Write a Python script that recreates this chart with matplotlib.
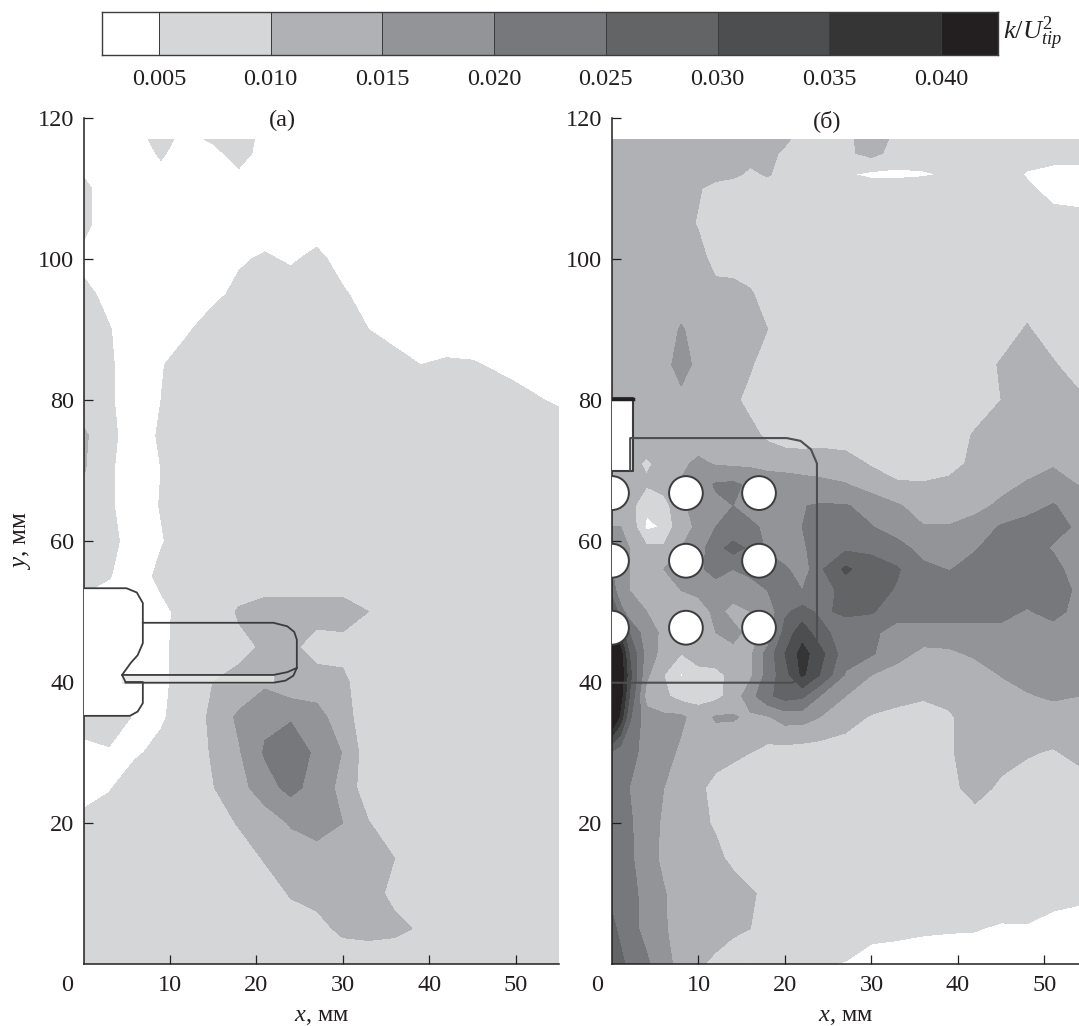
import numpy as np
from matplotlib import pyplot as plt
from matplotlib.colors import ListedColormap, BoundaryNorm
import matplotlib.patches as patches

plt.rcParams['font.family'] = ['Liberation Serif', 'DejaVu Serif']
plt.rcParams['mathtext.fontset'] = 'custom'
plt.rcParams['mathtext.rm'] = 'Liberation Serif'
plt.rcParams['mathtext.it'] = 'Liberation Serif:italic'

W, H = 1079, 1026
INK = '#231f20'
FS = 17.5

levels = [0, 0.005, 0.010, 0.015, 0.020, 0.025, 0.030, 0.035, 0.040, 0.100]
colors = ['#ffffff', '#d5d6d8', '#b0b1b4', '#939497', '#77787b', '#636466', '#4d4e50', '#353536', '#231f20']
bar_ticks = [0.005, 0.010, 0.015, 0.020, 0.025, 0.030, 0.035, 0.040]
bar_edges = [0.00245, 0.005, 0.010, 0.015, 0.020, 0.025, 0.030, 0.035, 0.040, 0.04255]

# panel (a): k/U^2 * 1000, rows from y = 117 down to y = 0
x_a = [0, 3, 6, 9, 12, 15, 18, 21, 24, 27, 30, 33, 36, 39, 42, 45, 50, 55]
y_a = [117, 115, 110, 105, 100, 95, 90, 85, 80, 75, 70, 65, 60, 55, 50, 45, 40, 35, 30, 25, 20, 15, 10, 5, 0]
k_a = [
    [4, 3, 4, 6, 4, 5.5, 6.5, 4, 3, 3, 3, 3, 3, 3, 3, 3, 3, 3],
    [3, 3, 3, 5.5, 3, 4, 6.5, 3.5, 3, 3, 3, 3, 3, 3, 3, 3, 3, 3],
    [6, 3, 3, 3, 3, 3, 3, 3, 3, 3, 3, 3, 3, 3, 3, 3, 3, 3],
    [6, 3, 3, 3, 3, 3, 3, 3, 3, 3, 3, 3, 3, 3, 3, 3, 3, 3],
    [4, 3, 3, 3, 3, 3, 4.5, 5.5, 4.5, 6, 3.5, 3, 3, 3, 3, 3, 3, 3],
    [6, 4, 3, 3, 3.5, 4, 6, 7, 7, 7, 5.5, 3.5, 3, 3, 3, 3, 3, 3],
    [6, 5.2, 3, 3, 4.5, 7, 7, 7, 7, 7, 7, 5, 3, 3, 3, 3, 3, 3],
    [7, 5.5, 3, 4.7, 7, 7, 7, 7, 7, 7, 7, 7, 7, 5, 5.5, 5.3, 4, 3],
    [7, 5.5, 3, 5, 7, 7, 7, 7, 7, 7, 7, 7, 7, 7, 7, 7, 6, 4.5],
    [11, 6, 3, 5.5, 7, 7, 7, 7, 7, 7, 7, 7, 7, 7, 7, 7, 7, 7],
    [10.5, 5.5, 3, 5, 7, 7, 7, 7, 7, 7, 7, 7, 7, 7, 7, 7, 7, 7],
    [7, 5.5, 3, 5.2, 7, 7, 7, 7, 7, 7, 7, 7, 7, 7, 7, 7, 7, 7],
    [7, 6, 3.5, 4.7, 7, 7, 7, 7, 7, 7, 7, 7, 7, 7, 7, 7, 7, 7],
    [7, 5.2, 3, 6, 7, 7, 7, 7, 7, 7, 7, 7, 7, 7, 7, 7, 7, 7],
    [3, 3, 3, 4, 6.5, 7, 10.5, 12, 12, 12, 12, 10, 7, 7, 7, 7, 7, 7],
    [3, 3, 3, 4.5, 6, 7, 9, 10.5, 11, 8, 8.5, 7, 7, 7, 7, 7, 7, 7],
    [3, 3, 3, 4.5, 6, 10, 11, 14, 11, 12, 11, 7, 7, 7, 7, 7, 7, 7],
    [6.5, 10, 4, 4.5, 7, 11, 16, 19, 19.5, 17, 12, 7, 7, 7, 7, 7, 7, 7],
    [4, 4, 4.5, 6, 7, 10.5, 14.5, 20.5, 23, 19, 14.8, 7, 7, 7, 7, 7, 7, 7],
    [3.5, 4.7, 7, 7, 7, 9.8, 13, 18, 21.5, 18, 13.5, 7, 7, 7, 7, 7, 7, 7],
    [6, 7, 7, 7, 7, 7, 10.5, 12, 15.5, 17, 15, 10.2, 7, 7, 7, 7, 7, 7],
    [7, 7, 7, 7, 7, 7, 7, 10.5, 12, 13, 13, 12, 10, 7, 7, 7, 7, 7],
    [7, 7, 7, 7, 7, 7, 7, 7, 10.5, 11.5, 12, 11.5, 9, 7, 7, 7, 7, 7],
    [7, 7, 7, 7, 7, 7, 7, 7, 7, 8.5, 11, 11.5, 11, 9.5, 7, 7, 7, 7],
    [7, 7, 7, 7, 7, 7, 7, 7, 7, 7, 7, 7, 7, 7, 7, 7, 7, 7],
]

# panel (б): same units
x_b = [0, 1, 2, 4, 6, 8, 10, 12, 14, 16, 18, 20, 22, 24, 27, 30, 33, 36, 39, 42, 45, 48, 51, 54]
y_b = [117, 115, 112, 110, 105, 100, 95, 90, 85, 80, 75, 71, 68, 65, 62, 59, 56, 53, 50, 47, 44, 41, 38, 35,
       30, 25, 20, 15, 10, 5, 0]
k_b = [
    [12, 12, 12, 12, 12, 12, 12, 12, 12, 12, 12, 11, 8, 8, 9, 12, 9, 7.5, 7.5, 7.5, 7.5, 7.5, 7.5, 7.5],
    [10, 11, 12, 12, 12, 12, 12, 12, 12, 12, 11.5, 9, 8, 8, 9, 11.5, 8, 7.5, 7.5, 7.5, 7.5, 7.5, 7.5, 7.5],
    [10, 11, 12, 12, 12, 12, 12, 12, 11, 9, 10.5, 8, 7.5, 7.5, 5.5, 4, 4, 4.5, 5.5, 7.5, 7.5, 4.5, 3, 3],
    [11, 12, 12, 12, 12, 12, 10.5, 8, 7.5, 7.5, 7.5, 7.5, 7.5, 7.5, 7.5, 7.5, 7.5, 7.5, 7.5, 7.5, 7.5, 6, 3, 2],
    [12, 12, 12, 12, 12, 12, 9.5, 7.5, 7.5, 7.5, 7.5, 7.5, 7.5, 7.5, 7.5, 7.5, 7.5, 7.5, 7.5, 7.5, 7.5, 7.5, 7.5, 7.5],
    [12, 12, 12, 12, 12, 12, 12, 8, 7.5, 7.5, 7.5, 7.5, 7.5, 7.5, 7.5, 7.5, 7.5, 7.5, 7.5, 7.5, 7.5, 7.5, 7.5, 7.5],
    [12, 12, 12, 12, 12, 12, 12, 12, 12, 10.5, 8, 7.5, 7.5, 7.5, 7.5, 7.5, 7.5, 7.5, 7.5, 7.5, 7.5, 7.5, 7.5, 7.5],
    [12, 12, 12, 12, 12.5, 15.5, 13, 12, 12, 12, 10, 7.5, 7.5, 7.5, 7.5, 7.5, 7.5, 7.5, 7.5, 7.5, 7.5, 10.5, 7.5, 7.5],
    [12, 12, 12, 12, 12.5, 18, 13, 12, 12, 10.5, 7.5, 7.5, 7.5, 7.5, 7.5, 7.5, 7.5, 7.5, 7.5, 7.5, 10.5, 12, 10.5, 7.5],
    [12, 12, 12, 12, 12, 13, 12, 12, 11, 8.5, 7.5, 7.5, 7.5, 7.5, 7.5, 7.5, 7.5, 7.5, 7.5, 7.5, 10, 12, 11, 11],
    [12, 12, 12, 12, 12, 12, 12, 12, 12, 11.5, 9, 7.5, 7.5, 7.5, 7.5, 7.5, 7.5, 7.5, 7.5, 10.5, 12, 12, 12, 12],
    [12, 12, 11, 9.5, 11, 14, 16, 14.5, 14, 14, 13.5, 13, 12.5, 13, 12, 9.5, 8, 8, 8.5, 11, 12, 13, 14.5, 12.5],
    [12, 12, 11, 10.5, 12, 15.5, 17.5, 20.5, 21, 19, 17.5, 17.5, 17, 16, 15.3, 12.5, 10.5, 10.3, 11, 12, 13.5, 15.5, 17, 14.8],
    [15, 15, 12, 6, 8, 14, 17, 19, 20, 18, 17.5, 18.5, 19.8, 20.5, 20.3, 18.5, 15.5, 13, 12.5, 13.5, 16, 18.5, 20.3, 18],
    [15, 15, 14, 4, 5.5, 14, 15.5, 20, 21, 21, 19, 18, 20, 22, 23, 20.2, 18, 15.2, 15.3, 17, 20.5, 21.5, 22, 19],
    [18, 17, 15, 11, 11, 15, 18, 23, 27, 24, 19, 16, 19, 23, 24, 24, 21.5, 18.5, 17, 19.7, 22, 22.5, 19.5, 18],
    [20, 17, 15, 13, 15, 16, 19, 22, 20, 22, 23, 21, 17, 24, 31, 27, 25.5, 21, 19.8, 21.5, 23, 23, 22, 17],
    [23, 16, 15, 13, 15, 15, 16, 17.5, 16.5, 17, 20, 22, 20, 22, 27, 27, 24.5, 22.5, 22.5, 22.5, 22.5, 22.5, 22.5, 19],
    [30, 22, 17, 15, 14, 12, 13, 16, 14, 15, 17, 24, 27, 24, 26, 25.5, 22, 22, 22, 22, 22, 19.5, 22, 18],
    [44, 34, 25, 17, 14, 12, 12, 15, 16, 14, 16, 27, 33, 27, 22, 21, 18, 18, 18, 18, 18, 18.5, 17.5, 17],
    [48, 42, 30, 18, 13, 10, 12, 14, 14, 14, 22, 30, 37, 32, 22, 20.5, 17, 13.5, 14, 15.8, 17.5, 17.5, 17.5, 17.5],
    [50, 44, 32, 16, 10, 4.5, 8.5, 8, 12, 14, 22, 28, 36, 30, 19.5, 15, 12.5, 12, 12, 12.5, 15.2, 15.8, 17, 17.5],
    [50, 42, 30, 13, 11, 8, 8, 8.5, 12, 18, 24, 27, 26, 20, 15, 13, 12, 10.5, 11, 12, 13, 14.8, 15.3, 15],
    [48, 38, 26, 17, 16, 16, 12.5, 15.5, 15.5, 14, 14.5, 17, 17, 15, 12, 9.5, 8, 8, 9.5, 12, 12.5, 13.5, 14, 14],
    [24, 22, 21, 19, 17, 14, 12, 12, 11, 10, 8.5, 8, 7.5, 7.5, 7.5, 7.5, 7.5, 7.5, 9.5, 12, 12, 10.5, 9.5, 11.5],
    [22, 21, 20, 18, 15, 13, 11, 8.5, 7.5, 7.5, 7.5, 7.5, 7.5, 7.5, 7.5, 7.5, 7.5, 7.5, 8.5, 12, 9, 7.5, 7.5, 7.5],
    [22, 22, 20.5, 18, 14, 13, 11, 9.5, 7.5, 7.5, 7.5, 7.5, 7.5, 7.5, 7.5, 7.5, 7.5, 7.5, 7.5, 7.5, 7.5, 7.5, 7.5, 7.5],
    [23, 22, 21, 17, 14, 13, 12, 11, 9, 7.5, 7.5, 7.5, 7.5, 7.5, 7.5, 7.5, 7.5, 7.5, 7.5, 7.5, 7.5, 7.5, 7.5, 7.5],
    [24, 23, 22, 18, 15.3, 13, 12.5, 12.5, 12, 10.5, 9, 7.5, 7.5, 7.5, 7.5, 7.5, 7.5, 7.5, 7.5, 7.5, 7.5, 7.5, 7, 6.5],
    [26, 24, 22.5, 18, 15.5, 13, 12.5, 12, 11, 10, 8, 7.5, 7.5, 7.5, 7.5, 6.5, 6, 5.5, 5.3, 5.2, 4.5, 4.6, 3, 2],
    [28, 26, 24, 21, 16, 14, 10.5, 9, 7, 4.8, 5.5, 5.5, 5.5, 5.2, 4.8, 3, 3, 3, 3, 3, 2, 2, 2, 2],
]

# rig outlines, mm
blade_x = [0.1, 5, 6.2, 6.9, 6.9, 6.3, 5.5, 4.5, 4.9, 6.9, 6.9, 6.3, 5.4, 0.1]
blade_y = [53.3, 53.3, 52.7, 51.2, 45.5, 43.8, 42.7, 41, 40, 40, 37, 35.8, 35.2, 35.2]
vane_x = [6.9, 22, 23.6, 24.4, 24.7, 24.7, 24.3, 23.4, 22, 4.9]
vane_y = [48.4, 48.4, 47.9, 47.1, 46, 42, 40.9, 40.2, 39.9, 39.9]
vane_in_x = [4.5, 22, 23.6, 24.7]
vane_in_y = [41, 41, 41.4, 42]
hub_x = [0, 2.4, 2.4, 0]
hub_y = [80.3, 80.3, 70, 70]
baffle_x = [2.1, 2.1, 20.2, 21.8, 23, 23.7, 23.7, 23.3, 22.4, 20.8, 0]
baffle_y = [70, 74.6, 74.6, 74.2, 73, 71, 43.5, 42, 40.8, 39.9, 39.9]
tube_x = [0, 8.55, 17]
tube_y = [66.8, 57.2, 47.7]


def setup_panel(rect, xlim, title, title_x, zero_x):
    ax = fig.add_axes(rect)
    ax.set_xlim(*xlim)
    ax.set_ylim(0, 120)
    ax.set_axisbelow(False)
    for side in ('top', 'right'):
        ax.spines[side].set_visible(False)
    for side in ('left', 'bottom'):
        ax.spines[side].set_linewidth(1.1)
        ax.spines[side].set_color(INK)
    ax.set_xticks([10, 20, 30, 40, 50])
    ax.set_yticks([20, 40, 60, 80, 100, 120])
    ax.tick_params(direction='in', length=6.5, width=0.9, color=INK, labelsize=FS, labelcolor=INK)
    ax.tick_params(axis='x', pad=8)
    ax.tick_params(axis='y', pad=7)
    ax.text(zero_x, -3, '0', fontsize=FS, color=INK, ha='center', va='center', clip_on=False)
    ax.text(title_x, 119.6, title, fontsize=FS, color=INK, ha='center', va='center', clip_on=False)
    ax.set_xlabel(r'$x$, мм', fontsize=FS, color=INK)
    ax.xaxis.set_label_coords(0.5, -0.05)
    return ax


def rect_px(left, top, right, bottom):
    return [left / W, 1 - bottom / H, (right - left) / W, (bottom - top) / H]


fig = plt.figure(figsize=(W / 100, H / 100), dpi=100)

# colour strip
cax = fig.add_axes(rect_px(102, 12, 998, 55))
cax.pcolormesh(bar_edges, [0, 1], [levels[:-1]], cmap=ListedColormap(colors),
               norm=BoundaryNorm(levels, len(colors)), edgecolors='#3c3c3e', linewidth=0.7)
cax.set_yticks([])
cax.set_xticks(bar_ticks)
cax.set_xticklabels(['%.3f' % t for t in bar_ticks], fontsize=FS, color=INK)
cax.tick_params(length=0, pad=10)
for s in cax.spines.values():
    s.set_color('#3c3c3e')
    s.set_linewidth(1.0)
fig.text(1003 / W, 1 - 33 / H, r'$k/U_{tip}^{2}$', fontsize=19, color=INK, ha='left', va='center')

# panel (a)
ax1 = setup_panel(rect_px(84, 118, 559, 964), (0.1, 55), '(а)', 23, -1.9)
ax1.set_ylabel(r'$y$, мм', fontsize=18, color=INK)
ax1.yaxis.set_label_coords(-0.107, 0.5)
ax1.contourf(x_a, y_a[::-1], np.array(k_a)[::-1] * 0.001, levels=levels, colors=colors)
ax1.fill(blade_x, blade_y, facecolor='white', edgecolor='none', zorder=3)
ax1.plot(blade_x, blade_y, color='#3c3c3e', lw=1.3, zorder=4)
ax1.fill_between(vane_in_x[:2], [39.9, 39.9], [41, 41], color='#e6e6e6', alpha=0.8, zorder=3)
ax1.plot(vane_x, vane_y, color='#3c3c3e', lw=1.3, zorder=4)
ax1.plot(vane_in_x, vane_in_y, color='#3c3c3e', lw=1.3, zorder=4)

# panel (б)
ax2 = setup_panel(rect_px(612, 118, 1079, 964), (0, 54), '(б)', 24.9, -1.75)
ax2.contourf(x_b, y_b[::-1], np.array(k_b)[::-1] * 0.001, levels=levels, colors=colors)
ax2.fill(hub_x, hub_y, facecolor='white', edgecolor='none', zorder=3)
ax2.plot(hub_x, hub_y, color='#3c3c3e', lw=1.5, zorder=4)
ax2.plot(hub_x[:2], [80.1, 80.1], color=INK, lw=2.5, zorder=4)
ax2.plot(baffle_x, baffle_y, color='#4d4e50', lw=1.5, zorder=4)
for cy in tube_y:
    for cx in tube_x:
        ax2.add_patch(patches.Ellipse((cx, cy), 3.9, 4.8, facecolor='white', edgecolor='#3c3c3e', lw=1.4, zorder=4))

fig.savefig('out.png', dpi=100)
